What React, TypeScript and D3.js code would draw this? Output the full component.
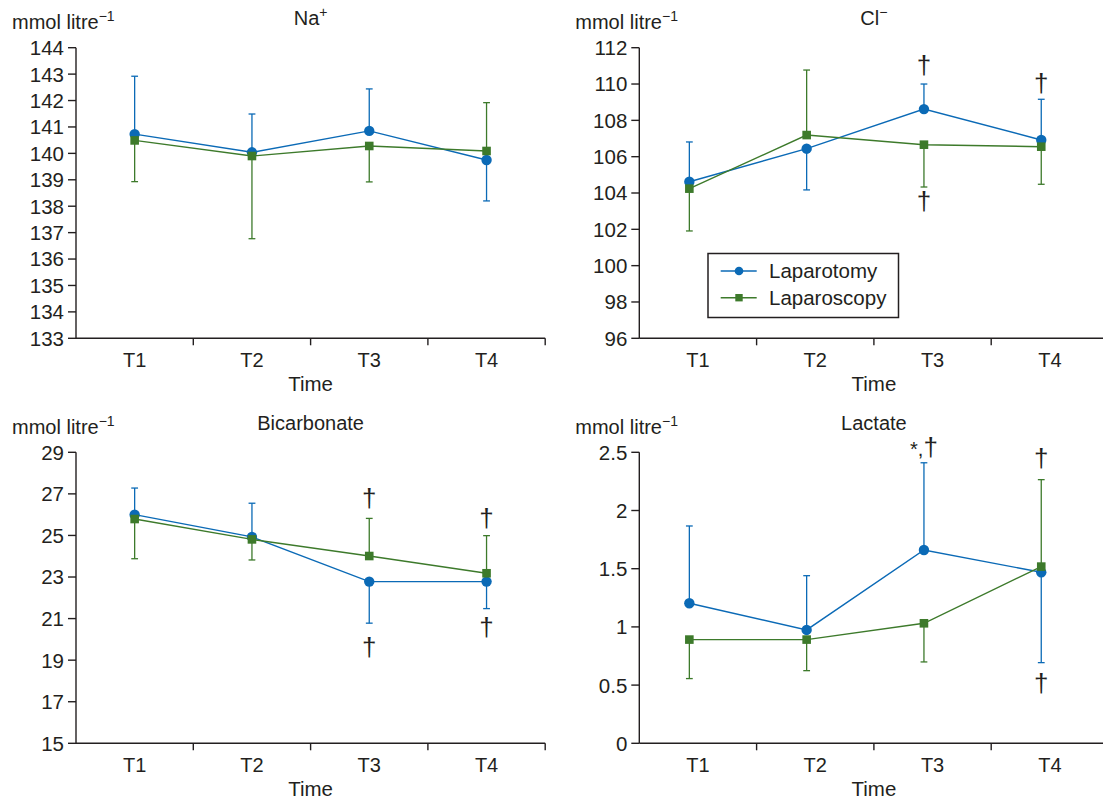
import React from "react";
import * as d3 from "d3";

// time points
const times = ["T1", "T2", "T3", "T4"];

// Na+ (mean, end of one-sided error bar)
const naTomy = [140.73, 140.04, 140.85, 139.75];
const naTomyErr = [142.92, 141.49, 142.44, 138.2];
const naScopy = [140.49, 139.9, 140.28, 140.09];
const naScopyErr = [138.93, 136.77, 138.92, 141.92];
const naTicks = [133, 134, 135, 136, 137, 138, 139, 140, 141, 142, 143, 144];

// Cl-
const clTomy = [104.62, 106.44, 108.62, 106.92];
const clTomyErr = [106.81, 104.17, 110.0, 109.16];
const clScopy = [104.24, 107.19, 106.66, 106.55];
const clScopyErr = [101.91, 110.77, 104.33, 104.48];
const clTicks = [96, 98, 100, 102, 104, 106, 108, 110, 112];
const clMarks = [
  { t: "T3", v: 110.95, pre: "" },
  { t: "T3", v: 103.45, pre: "" },
  { t: "T4", v: 110.0, pre: "" },
];

// Bicarbonate
const bicTomy = [26.0, 24.93, 22.78, 22.78];
const bicTomyErr = [27.28, 26.55, 20.78, 21.48];
const bicScopy = [25.79, 24.81, 24.01, 23.18];
const bicScopyErr = [23.88, 23.82, 25.82, 24.99];
const bicTicks = [15, 17, 19, 21, 23, 25, 27, 29];
const bicMarks = [
  { t: "T3", v: 26.72, pre: "" },
  { t: "T3", v: 19.55, pre: "" },
  { t: "T4", v: 25.77, pre: "" },
  { t: "T4", v: 20.5, pre: "" },
];

// Lactate
const lacTomy = [1.203, 0.974, 1.661, 1.469];
const lacTomyErr = [1.867, 1.44, 2.41, 0.693];
const lacScopy = [0.891, 0.891, 1.031, 1.518];
const lacScopyErr = [0.556, 0.624, 0.699, 2.265];
const lacTicks = [0, 0.5, 1, 1.5, 2, 2.5];
const lacMarks = [
  { t: "T3", v: 2.53, pre: "*," },
  { t: "T4", v: 2.434, pre: "" },
  { t: "T4", v: 0.501, pre: "" },
];

const BLUE = "#0b6ab6";
const GREEN = "#3d7a2b";
const INK = "#231f20";
const FONT = "'Liberation Sans', Arial, Helvetica, sans-serif";

type Mark = { t: string; v: number; pre: string };

function Panel(props: {
  x0: number;
  top: number;
  bottom: number;
  dx: number;
  title: React.ReactNode;
  ticks: number[];
  tomy: number[];
  tomyErr: number[];
  scopy: number[];
  scopyErr: number[];
  marks?: Mark[];
  legend?: boolean;
}) {
  const { x0, top, bottom, dx, ticks, tomy, tomyErr, scopy, scopyErr } = props;
  const width = 469.2;
  const x = d3.scaleBand<string>().domain(times).range([x0, x0 + width]).padding(0);
  const y = d3
    .scaleLinear()
    .domain([ticks[0], ticks[ticks.length - 1]])
    .range([bottom, top]);
  const cx = (t: string) => (x(t) as number) + x.bandwidth() / 2 + dx;
  const line = d3
    .line<number>()
    .x((_, i) => cx(times[i]))
    .y((d) => y(d));

  const series = [
    { vals: tomy, err: tomyErr, color: BLUE, shape: "circle" },
    { vals: scopy, err: scopyErr, color: GREEN, shape: "square" },
  ];

  return (
    <g fontFamily={FONT} fill={INK}>
      {/* unit label */}
      <text x={x0 - 64} y={top - 18.4} fontSize={20}>
        mmol litre
        <tspan fontSize={14} dy={-8}>
          −1
        </tspan>
      </text>
      <text x={x0 + width / 2} y={top - 22.6} fontSize={20} textAnchor="middle">
        {props.title}
      </text>

      {/* y axis */}
      <line x1={x0} x2={x0} y1={top} y2={bottom} stroke={INK} strokeWidth={1.4} />
      {ticks.map((t) => (
        <g key={t}>
          <line x1={x0 - 8} x2={x0} y1={y(t)} y2={y(t)} stroke={INK} strokeWidth={1.4} />
          <text x={x0 - 12} y={y(t) + 7.4} fontSize={20.5} textAnchor="end">
            {t}
          </text>
        </g>
      ))}

      {/* x axis */}
      <line x1={x0} x2={x0 + width} y1={bottom} y2={bottom} stroke={INK} strokeWidth={1.4} />
      {times.map((t) => (
        <g key={t}>
          <line
            x1={(x(t) as number) + x.bandwidth()}
            x2={(x(t) as number) + x.bandwidth()}
            y1={bottom}
            y2={bottom + 7}
            stroke={INK}
            strokeWidth={1.4}
          />
          <text x={(x(t) as number) + x.bandwidth() / 2} y={bottom + 29} fontSize={20} textAnchor="middle">
            {t}
          </text>
        </g>
      ))}
      <text x={x0 + width / 2} y={bottom + 52.5} fontSize={20.5} textAnchor="middle">
        Time
      </text>

      {/* error bars */}
      {series.map((s, si) =>
        s.vals.map((v, i) => {
          const px = cx(times[i]);
          return (
            <g key={`e${si}-${i}`} stroke={s.color} strokeWidth={1.3}>
              <line x1={px} x2={px} y1={y(v)} y2={y(s.err[i])} />
              <line x1={px - 3.4} x2={px + 3.4} y1={y(s.err[i])} y2={y(s.err[i])} />
            </g>
          );
        })
      )}

      {/* lines and markers */}
      {series.map((s, si) => (
        <g key={`s${si}`}>
          <path d={line(s.vals) || ""} fill="none" stroke={s.color} strokeWidth={1.4} />
          {s.vals.map((v, i) =>
            s.shape === "circle" ? (
              <circle key={i} cx={cx(times[i])} cy={y(v)} r={5.2} fill={s.color} />
            ) : (
              <rect key={i} x={cx(times[i]) - 4.3} y={y(v) - 4.3} width={8.6} height={8.6} fill={s.color} />
            )
          )}
        </g>
      ))}

      {/* significance marks */}
      {(props.marks || []).map((m, i) => (
        <text
          key={`m${i}`}
          x={cx(m.t) + (m.pre ? 0 : 0)}
          y={y(m.v) + 7.5}
          fontSize={26}
          textAnchor="middle"
        >
          {m.pre && <tspan fontSize={20}>{m.pre}</tspan>}†
        </text>
      ))}

      {props.legend && (
        <g>
          <rect x={708} y={253.5} width={190.5} height={64} fill="#fff" stroke={INK} strokeWidth={1.5} />
          {[
            { name: "Laparotomy", color: BLUE, shape: "circle" },
            { name: "Laparoscopy", color: GREEN, shape: "square" },
          ].map((l, i) => {
            const ly = 271 + i * 26.7;
            return (
              <g key={l.name}>
                <line x1={720.7} x2={756.7} y1={ly} y2={ly} stroke={l.color} strokeWidth={1.4} />
                {l.shape === "circle" ? (
                  <circle cx={739} cy={ly} r={4.3} fill={l.color} />
                ) : (
                  <rect x={735.3} y={ly - 3.7} width={7.4} height={7.4} fill={l.color} />
                )}
                <text x={769} y={ly + 7.2} fontSize={20.5}>
                  {l.name}
                </text>
              </g>
            );
          })}
        </g>
      )}
    </g>
  );
}

export default function App() {
  return (
    <svg
      width={1103}
      height={801}
      style={{ position: "absolute", left: 0, top: 0, background: "#fff" }}
    >
      <Panel
        x0={76}
        top={47.7}
        bottom={338.3}
        dx={0}
        title={
          <>
            Na<tspan fontSize={14} dy={-8}>+</tspan>
          </>
        }
        ticks={naTicks}
        tomy={naTomy}
        tomyErr={naTomyErr}
        scopy={naScopy}
        scopyErr={naScopyErr}
      />
      <Panel
        x0={639.3}
        top={47.7}
        bottom={338.3}
        dx={-8.6}
        title={
          <>
            Cl<tspan fontSize={14} dy={-8}>−</tspan>
          </>
        }
        ticks={clTicks}
        tomy={clTomy}
        tomyErr={clTomyErr}
        scopy={clScopy}
        scopyErr={clScopyErr}
        marks={clMarks}
        legend
      />
      <Panel
        x0={76}
        top={452.3}
        bottom={743.3}
        dx={0}
        title="Bicarbonate"
        ticks={bicTicks}
        tomy={bicTomy}
        tomyErr={bicTomyErr}
        scopy={bicScopy}
        scopyErr={bicScopyErr}
        marks={bicMarks}
      />
      <Panel
        x0={639.3}
        top={452.3}
        bottom={743.3}
        dx={-8.6}
        title="Lactate"
        ticks={lacTicks}
        tomy={lacTomy}
        tomyErr={lacTomyErr}
        scopy={lacScopy}
        scopyErr={lacScopyErr}
        marks={lacMarks}
      />
    </svg>
  );
}
